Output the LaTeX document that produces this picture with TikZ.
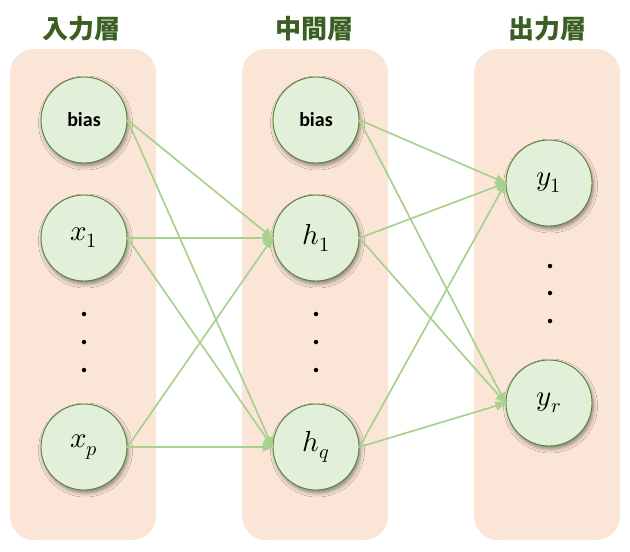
\documentclass[tikz,border=0pt]{standalone}
\usepackage{fontspec}
\usepackage{unicode-math}
\setmathfont{Latin Modern Math}
\newfontfamily\cjk{Noto Sans CJK JP}
\newfontfamily\carlito{Carlito}
\usetikzlibrary{shadows,shadows.blur,arrows.meta}
\definecolor{panelcol}{HTML}{FBE5D6}
\definecolor{nodefill}{HTML}{E2F0D9}
\definecolor{nodeborder}{HTML}{548235}
\definecolor{edgecol}{HTML}{A9D18E}
\definecolor{hdrcol}{HTML}{3B5E22}
\begin{document}
\begin{tikzpicture}[x=1pt,y=-1pt,
  panelbox/.style={fill=panelcol, rounded corners=24pt, minimum width=146pt, minimum height=491pt, inner sep=0pt},
  hdr/.style={font=\cjk\bfseries\fontsize{26}{26}\selectfont, text=hdrcol},
  neuron/.style={circle, minimum size=86pt, inner sep=0pt, draw=nodeborder, line width=0.9pt, fill=nodefill,
    blur shadow={shadow xshift=1.5pt, shadow yshift=-3pt, shadow blur radius=4pt, shadow opacity=45}},
  mtext/.style={font=\fontsize{29}{29}\selectfont},
  btext/.style={font=\carlito\bfseries\fontsize{20}{20}\selectfont},
  dotn/.style={circle, fill=black, minimum size=4.5pt, inner sep=0pt},
  edge/.style={draw=edgecol, line width=1.7pt, -{Triangle[length=11pt,width=9pt]}, shorten >=-1pt}
]
\useasboundingbox (0,0) rectangle (630,552);
% panels
\node[panelbox] (pin) at (83,294.5) {};
\node[panelbox] (pmid) at (315,294.5) {};
\node[panelbox] (pout) at (547,294.5) {};
% headers
\node[hdr] (hin) at (81,28.5) {入力層};
\node[hdr] (hmid) at (314,28.5) {中間層};
\node[hdr] (hout) at (547,28.5) {出力層};
% input layer
\node[neuron, btext] (ib) at (84,120) {bias};
\node[neuron, mtext] (x1) at (84,238) {$x_1$};
\node[neuron, mtext] (xp) at (84,447) {$x_p$};
\node[dotn] (d1) at (84,314) {};
\node[dotn] (d2) at (84,342) {};
\node[dotn] (d3) at (84,370) {};
% hidden layer
\node[neuron, btext] (hb) at (316,120) {bias};
\node[neuron, mtext] (h1) at (316,238) {$h_1$};
\node[neuron, mtext] (hq) at (316,447) {$h_q$};
\node[dotn] (e1) at (316,314) {};
\node[dotn] (e2) at (316,342) {};
\node[dotn] (e3) at (316,370) {};
% output layer
\node[neuron, mtext] (y1) at (549,183) {$y_1$};
\node[neuron, mtext] (yr) at (549,403) {$y_r$};
\node[dotn] (f1) at (550,266) {};
\node[dotn] (f2) at (550,293) {};
\node[dotn] (f3) at (550,321) {};
% edges input -> hidden
\foreach \s in {ib,x1,xp}{
  \foreach \t in {h1,hq}{
    \draw[edge] (\s.east) -- (\t.west);
  }
}
% edges hidden -> output
\foreach \s in {hb,h1,hq}{
  \foreach \t in {y1,yr}{
    \draw[edge] (\s.east) -- (\t.west);
  }
}
\end{tikzpicture}
\end{document}
